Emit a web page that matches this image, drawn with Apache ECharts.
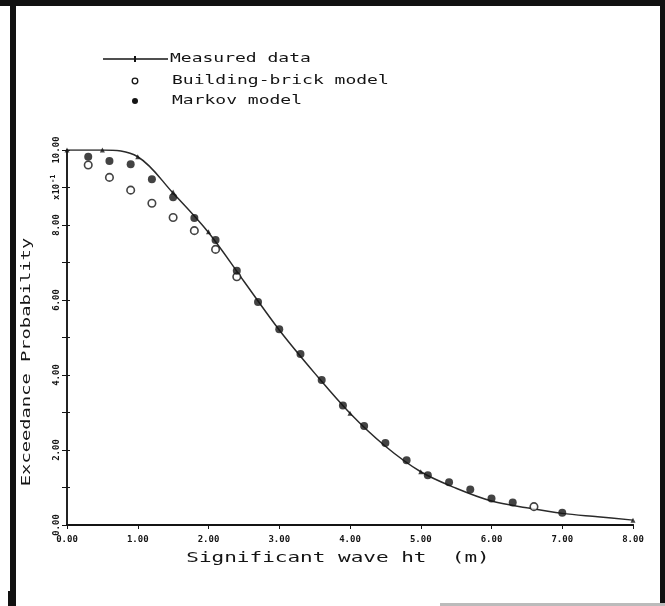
<!DOCTYPE html>
<html>
<head>
<meta charset="utf-8">
<script src="https://cdn.jsdelivr.net/npm/echarts@6/dist/echarts.min.js"></script>
<style>
html,body{margin:0;padding:0;background:#fff;}
#chart{width:665px;height:606px;}
</style>
</head>
<body>
<div id="chart"></div>
<script>
// Measured data (line)
const measuredX = [0, 0.5, 1.0, 1.5, 2.0, 2.5, 3.0, 3.5, 4.0, 4.5, 5.0, 5.5, 6.0, 6.5, 7.0, 7.5, 8.0];
const measuredY = [10, 10, 9.82, 8.85, 7.8, 6.5, 5.2, 4.05, 2.98, 2.1, 1.42, 0.98, 0.64, 0.46, 0.31, 0.22, 0.13];
// Measured data markers visible on the curve
const measuredMarkX = [0, 0.5, 1.0, 1.5, 2.0, 4.0, 5.0, 8.0];
const measuredMarkY = [10, 10, 9.82, 8.88, 7.82, 2.98, 1.42, 0.13];
// Building-brick model (open circles)
const brickX = [0.3, 0.6, 0.9, 1.2, 1.5, 1.8, 2.1, 2.4, 6.6];
const brickY = [9.6, 9.27, 8.93, 8.58, 8.2, 7.85, 7.35, 6.62, 0.49];
// Markov model (filled circles)
const markovX = [0.3, 0.6, 0.9, 1.2, 1.5, 1.8, 2.1, 2.4, 2.7, 3.0, 3.3, 3.6, 3.9, 4.2, 4.5, 4.8, 5.1, 5.4, 5.7, 6.0, 6.3, 7.0];
const markovY = [9.82, 9.71, 9.62, 9.22, 8.74, 8.19, 7.6, 6.78, 5.95, 5.22, 4.56, 3.87, 3.19, 2.64, 2.19, 1.73, 1.33, 1.14, 0.95, 0.71, 0.60, 0.33];
// Axis ticks
const xTicks = [0, 1, 2, 3, 4, 5, 6, 7, 8];
const yTicks = [0, 2, 4, 6, 8, 10];

const pairs = (xs, ys) => xs.map((x, i) => [x, ys[i]]);
const FONT = "'DejaVu Sans Mono', monospace";
const INK = '#141414';

const chart = echarts.init(document.getElementById('chart'), null, {renderer: 'canvas'});

const option = {
  backgroundColor: '#ffffff',
  animation: false,
  grid: {left: 67, right: 32, top: 150, bottom: 81, containLabel: false},
  xAxis: [{
    type: 'value', min: xTicks[0], max: xTicks[xTicks.length - 1], interval: 1,
    axisLine: {show: true, lineStyle: {color: INK, width: 2}},
    axisTick: {show: true, inside: false, length: 4, lineStyle: {color: INK, width: 1}},
    axisLabel: {show: true, margin: 10, fontFamily: FONT, fontSize: 9, fontWeight: 'bold', color: INK,
      formatter: v => xTicks.includes(v) ? v.toFixed(2) : ''},
    splitLine: {show: false}
  }, {
    type: 'value', position: 'top', min: 0, max: 8, interval: 1,
    axisLine: {show: true, lineStyle: {color: INK, width: 2}},
    axisTick: {show: true, inside: true, length: 3, lineStyle: {color: INK, width: 1}},
    axisLabel: {show: false}, splitLine: {show: false}
  }],
  yAxis: [{
    type: 'value', min: 0, max: 10, interval: 1,
    axisLine: {show: true, lineStyle: {color: INK, width: 1.5}},
    axisTick: {show: true, inside: true, length: 3, lineStyle: {color: INK, width: 1}},
    axisLabel: {show: true, rotate: 90, margin: 6, fontFamily: FONT, fontSize: 9, fontWeight: 'bold', color: INK,
      formatter: v => yTicks.includes(v) ? v.toFixed(2) : ''},
    splitLine: {show: false}
  }, {
    type: 'value', position: 'right', min: 0, max: 10, interval: 1,
    axisLine: {show: true, lineStyle: {color: INK, width: 1.5}},
    axisTick: {show: true, inside: true, length: 5, lineStyle: {color: INK, width: 1}},
    axisLabel: {show: false}, splitLine: {show: false}
  }],
  series: [{
    name: 'Measured data', type: 'line', smooth: 0.35, symbol: 'none',
    lineStyle: {color: '#2a2a2a', width: 1.5},
    data: pairs(measuredX, measuredY), z: 2
  }, {
    name: 'Measured data', type: 'scatter', symbol: 'triangle', symbolSize: 5,
    itemStyle: {color: INK}, data: pairs(measuredMarkX, measuredMarkY), z: 3
  }, {
    name: 'Building-brick model', type: 'scatter', symbol: 'circle', symbolSize: 7.5,
    itemStyle: {color: '#ffffff', borderColor: INK, borderWidth: 1.6},
    data: pairs(brickX, brickY), z: 4
  }, {
    name: 'Markov model', type: 'scatter', symbol: 'circle', symbolSize: 8,
    itemStyle: {color: INK}, data: pairs(markovX, markovY), z: 5
  }],
  graphic: [
    // picture frame
    {type: 'rect', shape: {x: 0, y: 0, width: 665, height: 6}, style: {fill: '#111'}},
    {type: 'rect', shape: {x: 10, y: 0, width: 6, height: 606}, style: {fill: '#111'}},
    {type: 'rect', shape: {x: 8, y: 591, width: 8, height: 15}, style: {fill: '#111'}},
    {type: 'rect', shape: {x: 660, y: 0, width: 5, height: 606}, style: {fill: '#111'}},
    {type: 'rect', shape: {x: 440, y: 603, width: 225, height: 3}, style: {fill: '#bbb'}},
    // legend
    {type: 'line', shape: {x1: 103, y1: 59, x2: 168, y2: 59}, style: {stroke: INK, lineWidth: 1.5}},
    {type: 'line', shape: {x1: 135, y1: 56, x2: 135, y2: 62}, style: {stroke: INK, lineWidth: 2}},
    {type: 'text', x: 170, y: 59, scaleX: 1.5,
      style: {text: 'Measured data', fontFamily: FONT, fontSize: 12, fill: INK, align: 'left', verticalAlign: 'middle'}},
    {type: 'circle', shape: {cx: 135, cy: 81, r: 2.8}, style: {fill: '#fff', stroke: INK, lineWidth: 1.3}},
    {type: 'text', x: 172, y: 81, scaleX: 1.5,
      style: {text: 'Building-brick model', fontFamily: FONT, fontSize: 12, fill: INK, align: 'left', verticalAlign: 'middle'}},
    {type: 'circle', shape: {cx: 135, cy: 101, r: 3}, style: {fill: INK}},
    {type: 'text', x: 172, y: 101, scaleX: 1.5,
      style: {text: 'Markov model', fontFamily: FONT, fontSize: 12, fill: INK, align: 'left', verticalAlign: 'middle'}},
    // axis titles
    {type: 'text', x: 338, y: 558, scaleX: 1.5,
      style: {text: 'Significant wave ht  (m)', fontFamily: FONT, fontSize: 14, fill: INK, align: 'center', verticalAlign: 'middle'}},
    {type: 'text', x: 27, y: 362, rotation: Math.PI / 2, scaleX: 1.5,
      style: {text: 'Exceedance Probability', fontFamily: FONT, fontSize: 12.5, fill: INK, align: 'center', verticalAlign: 'middle'}},
    // x10^-1 multiplier
    {type: 'group', x: 57, y: 200, rotation: Math.PI / 2, children: [
      {type: 'text', x: 0, y: 0, style: {text: 'x10', fontFamily: FONT, fontSize: 9, fontWeight: 'bold', fill: INK, align: 'left', verticalAlign: 'middle'}},
      {type: 'text', x: 17, y: -4, style: {text: '-1', fontFamily: FONT, fontSize: 7, fontWeight: 'bold', fill: INK, align: 'left', verticalAlign: 'middle'}}
    ]}
  ]
};
chart.setOption(option);
</script>
</body>
</html>
